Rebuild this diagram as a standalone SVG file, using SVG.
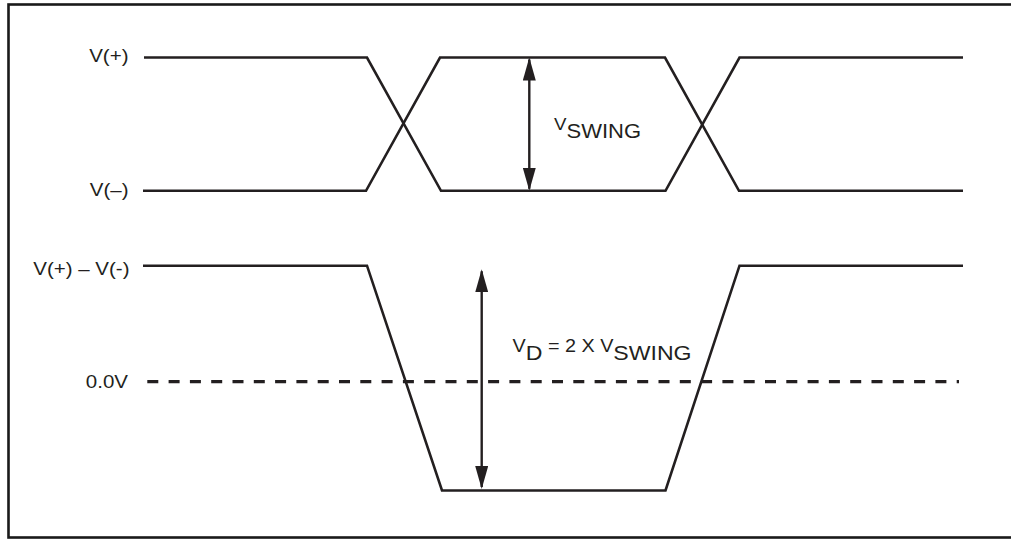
<svg xmlns="http://www.w3.org/2000/svg" width="1011" height="539" viewBox="0 0 1011 539">
<defs>
<style>
.frame{fill:none;stroke:#1a1a1a;stroke-width:2.6}
.sig{fill:none;stroke:#231f20;stroke-width:2.6;stroke-linejoin:miter}
.dash{fill:none;stroke:#231f20;stroke-width:3.2;stroke-dasharray:11 10.3}
.arr{fill:none;stroke:#231f20;stroke-width:2.4}
.lbl{font-family:"Liberation Sans",Arial,sans-serif;font-size:19px;fill:#231f20}
.main{font-size:17px}
.sub{font-size:20px}
.main2{font-size:18px}
.sub2{font-size:21px}
</style>
<marker id="ah" viewBox="0 0 23 13" refX="21" refY="6.5" markerWidth="23" markerHeight="13" markerUnits="userSpaceOnUse" orient="auto-start-reverse">
<path d="M0,0 L23,6.5 L0,13 Z" fill="#231f20"/>
</marker>
</defs>
<rect class="frame" x="8.5" y="4.5" width="1010" height="533"/>
<g id="connectors">
<path id="vplus" class="sig" d="M144,57.5 L367,57.5 L441,190.8 L665.5,190.8 L739.5,57.5 L963,57.5"/>
<path id="vminus" class="sig" d="M143,190.8 L366,190.8 L440,57.5 L665,57.5 L739,190.8 L963,190.8"/>
<path id="vdiff" class="sig" d="M143,265.7 L367,265.7 L442,490.5 L665.5,490.5 L739.5,265.7 L963,265.7"/>
<line id="zero" class="dash" x1="147.3" y1="381.7" x2="959" y2="381.7"/>
<line id="swing-arrow" class="arr" x1="529.3" y1="59.5" x2="529.3" y2="188.8" marker-start="url(#ah)" marker-end="url(#ah)"/>
<line id="vd-arrow" class="arr" x1="481.7" y1="271.3" x2="481.7" y2="487" marker-start="url(#ah)" marker-end="url(#ah)"/>
</g>
<g id="label-vplus"><text class="lbl" text-anchor="end" transform="translate(128.5,61.5) scale(1.08,1)">V(+)</text></g>
<g id="label-vminus"><text class="lbl" text-anchor="end" transform="translate(128.5,195.5) scale(1.08,1)">V(–)</text></g>
<g id="label-vdiff"><text class="lbl" text-anchor="end" transform="translate(129.5,275) scale(1.08,1)">V(+) – V(-)</text></g>
<g id="label-zero"><text class="lbl" text-anchor="end" transform="translate(128,388) scale(1.08,1)">0.0V</text></g>
<g id="label-vswing"><text class="lbl" transform="translate(554,130) scale(1.1,1)"><tspan class="main">V</tspan><tspan class="sub" dy="8">SWING</tspan></text></g>
<g id="label-vd"><text class="lbl" transform="translate(512.5,352) scale(1.1,1)"><tspan class="main2">V</tspan><tspan class="sub2" dy="8">D</tspan><tspan class="main2" dy="-8"> = 2 X V</tspan><tspan class="sub2" dy="8">SWING</tspan></text></g>
</svg>
